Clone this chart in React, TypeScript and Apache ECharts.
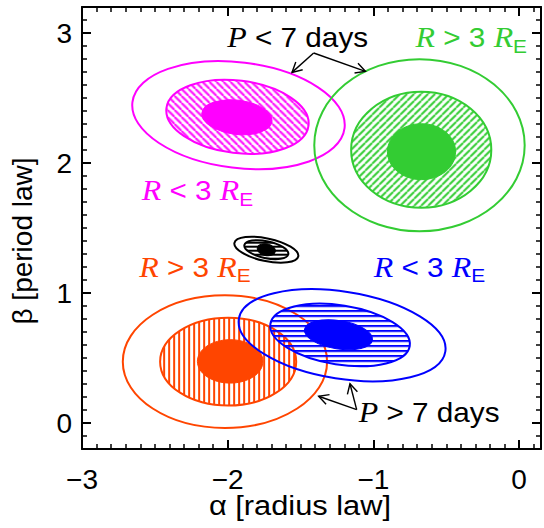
import { useEffect, useRef } from 'react';
import * as echarts from 'echarts';

// ---- axes ----
const X_MIN = -3;
const X_MAX = 0.15;
const Y_MIN = -0.2;
const Y_MAX = 3.2;
const xMajorTicks = [-3, -2, -1, 0];
const yMajorTicks = [0, 1, 2, 3];

// ---- contour ellipses: [alpha, beta, semi-axis (alpha), semi-axis (beta), tilt deg] ; outer, hatched, core ----
const magentaContours = [
  [-1.926, 2.368, 0.733, 0.406, 7],
  [-1.933, 2.355, 0.491, 0.279, 7],
  [-1.937, 2.352, 0.242, 0.131, 7],
];
const greenContours = [
  [-0.684, 2.137, 0.722, 0.662, 0],
  [-0.672, 2.102, 0.481, 0.446, 0],
  [-0.67, 2.087, 0.234, 0.215, 0],
];
const orangeContours = [
  [-2.019, 0.472, 0.701, 0.51, 0],
  [-1.997, 0.472, 0.467, 0.338, 0],
  [-1.983, 0.474, 0.225, 0.167, 0],
];
const blueContours = [
  [-1.215, 0.675, 0.717, 0.335, 9],
  [-1.229, 0.677, 0.484, 0.228, 9],
  [-1.24, 0.679, 0.236, 0.109, 9],
];
const blackContours = [
  [-1.735, 1.333, 0.224, 0.087, 12],
  [-1.735, 1.333, 0.154, 0.065, 12],
  [-1.735, 1.333, 0.063, 0.045, 12],
];

// ---- annotation arrows: [from alpha, from beta, to alpha, to beta] ----
const arrowSegments = [
  [-1.41, 2.846, -1.559, 2.697],
  [-1.41, 2.846, -1.055, 2.705],
  [-1.115, 0.103, -1.161, 0.302],
  [-1.115, 0.103, -1.376, 0.206],
];

// ---- annotation texts ----
const annotationTexts = [
  '{i|P}{n| < 7 days}',
  '{i|P}{n| > 7 days}',
  '{i|R}{n| > 3 }{i|R}{s|E}',
  '{i|R}{n| < 3 }{i|R}{s|E}',
  '{i|R}{n| > 3 }{i|R}{s|E}',
  '{i|R}{n| < 3 }{i|R}{s|E}',
];
const annotationAnchors = [
  [-2.003, 2.964],
  [-1.101, 0.079],
  [-0.711, 2.964],
  [-2.59, 1.787],
  [-2.607, 1.198],
  [-0.998, 1.198],
];

const MAGENTA = '#ff00ff';
const GREEN = '#33cc33';
const ORANGE = '#ff4500';
const BLUE = '#0000ff';
const BLACK = '#000000';
const annotationColors = [BLACK, BLACK, GREEN, MAGENTA, ORANGE, BLUE];

function minorTicks(min: number, max: number, majors: number[]) {
  const out: number[] = [];
  const start = Math.ceil(min * 10 - 1e-6);
  const end = Math.floor(max * 10 + 1e-6);
  for (let i = start; i <= end; i++) {
    const v = i / 10;
    if (Math.abs(v - min) < 1e-6 || Math.abs(v - max) < 1e-6) continue;
    if (majors.some((m) => Math.abs(m - v) < 1e-6)) continue;
    out.push(v);
  }
  return out;
}

function makeHatch(color: string, kind: string, tile: number, lw: number) {
  const cv = document.createElement('canvas');
  cv.width = tile;
  cv.height = tile;
  const g = cv.getContext('2d') as CanvasRenderingContext2D;
  g.fillStyle = color;
  g.strokeStyle = color;
  g.lineWidth = lw;
  if (kind === 'v') {
    g.fillRect(0, 0, lw, tile);
  } else if (kind === 'h') {
    g.fillRect(0, 0, tile, lw);
  } else {
    g.beginPath();
    for (const o of [-tile, 0, tile]) {
      if (kind === '/') {
        g.moveTo(o, tile);
        g.lineTo(o + tile, 0);
      } else {
        g.moveTo(o, 0);
        g.lineTo(o + tile, tile);
      }
    }
    g.stroke();
  }
  return cv;
}

export default function App() {
  const ref = useRef<HTMLDivElement>(null);

  useEffect(() => {
    if (!ref.current) return;
    const chart = echarts.init(ref.current, undefined, { renderer: 'svg' });

    const contourSeries = (
      name: string,
      contours: number[][],
      color: string,
      kind: string,
      tile: number,
      z: number
    ) => {
      const cv = makeHatch(color, kind, tile, 2);
      return {
        type: 'custom',
        name,
        coordinateSystem: 'cartesian2d',
        z,
        silent: true,
        data: contours.map((c, i) => [...c, i]),
        encode: { x: 0, y: 1 },
        renderItem: (_params: any, api: any) => {
          const c = api.coord([api.value(0), api.value(1)]);
          const sz = api.size([api.value(2), api.value(3)]);
          const tilt = (api.value(4) * Math.PI) / 180;
          const level = api.value(5);
          let style: any;
          if (level === 0) {
            style = { fill: 'none', stroke: color, lineWidth: 2 };
          } else if (level === 1) {
            style = {
              fill: {
                image: cv,
                repeat: 'repeat',
                imageWidth: tile,
                imageHeight: tile,
                rotation: -tilt,
              },
              stroke: color,
              lineWidth: 2,
            };
          } else {
            style = { fill: color, stroke: color, lineWidth: 1 };
          }
          return {
            type: 'ellipse',
            x: c[0],
            y: c[1],
            rotation: -tilt,
            shape: { cx: 0, cy: 0, rx: sz[0], ry: sz[1] },
            style,
          };
        },
      };
    };

    const fmt = (v: number) => (v < 0 ? '\u2212' + Math.abs(v) : String(v));
    const lineStyle = { color: '#000', width: 2 };
    const xMinor = minorTicks(X_MIN, X_MAX, xMajorTicks);
    const yMinor = minorTicks(Y_MIN, Y_MAX, yMajorTicks);

    const axis = (dimMin: number, dimMax: number, position: string, ticks: number[], len: number, main: boolean, labels: boolean) => ({
      type: 'value',
      min: dimMin,
      max: dimMax,
      position,
      splitLine: { show: false },
      axisLine: { show: main, onZero: false, lineStyle },
      axisTick: {
        show: true,
        inside: true,
        length: len,
        customValues: ticks,
        lineStyle: { color: '#000', width: main ? 2 : 1.5 },
      },
      axisLabel: labels
        ? {
            show: true,
            customValues: ticks,
            formatter: fmt,
            fontSize: 28,
            fontFamily: 'Liberation Sans',
            color: '#000',
            margin: position === 'bottom' ? 16 : 10,
          }
        : { show: false },
    });

    const richFor = (col: string) => ({
      i: { fontFamily: 'Liberation Serif', fontStyle: 'italic', fontSize: 29, fill: col, lineHeight: 36 },
      n: { fontFamily: 'Liberation Sans', fontSize: 27, fill: col, lineHeight: 36 },
      s: { fontFamily: 'Liberation Sans', fontSize: 19, fill: col, lineHeight: 19, verticalAlign: 'bottom' },
    });

    const option: any = {
      animation: false,
      backgroundColor: '#ffffff',
      grid: { left: 82, right: 3, top: 7, bottom: 79, containLabel: false, outerBoundsMode: 'none' },
      xAxis: [
        axis(X_MIN, X_MAX, 'bottom', xMajorTicks, 9, true, true),
        axis(X_MIN, X_MAX, 'bottom', xMinor, 5, false, false),
        axis(X_MIN, X_MAX, 'top', xMajorTicks, 9, true, false),
        axis(X_MIN, X_MAX, 'top', xMinor, 5, false, false),
      ],
      yAxis: [
        axis(Y_MIN, Y_MAX, 'left', yMajorTicks, 9, true, true),
        axis(Y_MIN, Y_MAX, 'left', yMinor, 5, false, false),
        axis(Y_MIN, Y_MAX, 'right', yMajorTicks, 9, true, false),
        axis(Y_MIN, Y_MAX, 'right', yMinor, 5, false, false),
      ],
      graphic: [
        {
          type: 'text',
          x: 300,
          y: 505,
          scaleX: 1.1,
          style: {
            text: '\u03b1 [radius law]',
            fontSize: 28,
            fontFamily: 'Liberation Sans',
            fill: '#000',
            align: 'center',
            verticalAlign: 'middle',
          },
        },
        {
          type: 'text',
          x: 22,
          y: 241,
          rotation: Math.PI / 2,
          style: {
            text: '\u03b2 [period law]',
            fontSize: 28,
            fontFamily: 'Liberation Sans',
            fill: '#000',
            align: 'center',
            verticalAlign: 'middle',
          },
        },
      ],
      series: [
        contourSeries('black', blackContours, BLACK, 'h', 4, 2),
        contourSeries('magenta', magentaContours, MAGENTA, '\\', 7, 2),
        contourSeries('green', greenContours, GREEN, '/', 7, 2),
        contourSeries('orange', orangeContours, ORANGE, 'v', 5, 2),
        contourSeries('blue', blueContours, BLUE, 'h', 5, 2),
        {
          type: 'custom',
          name: 'arrows',
          coordinateSystem: 'cartesian2d',
          z: 3,
          silent: true,
          data: arrowSegments,
          encode: { x: [0, 2], y: [1, 3] },
          renderItem: (_params: any, api: any) => {
            const p1 = api.coord([api.value(0), api.value(1)]);
            const p2 = api.coord([api.value(2), api.value(3)]);
            const ang = Math.atan2(p2[1] - p1[1], p2[0] - p1[0]);
            const L = 11;
            const phi = (28 * Math.PI) / 180;
            const h1 = [p2[0] - L * Math.cos(ang - phi), p2[1] - L * Math.sin(ang - phi)];
            const h2 = [p2[0] - L * Math.cos(ang + phi), p2[1] - L * Math.sin(ang + phi)];
            const st = { stroke: '#000', lineWidth: 1.4, fill: 'none' };
            return {
              type: 'group',
              children: [
                { type: 'line', shape: { x1: p1[0], y1: p1[1], x2: p2[0], y2: p2[1] }, style: st },
                { type: 'polyline', shape: { points: [h1, p2, h2] }, style: st },
              ],
            };
          },
        },
        {
          type: 'custom',
          name: 'labels',
          coordinateSystem: 'cartesian2d',
          z: 4,
          silent: true,
          data: annotationAnchors,
          encode: { x: 0, y: 1 },
          renderItem: (params: any, api: any) => {
            const i = params.dataIndex;
            const p = api.coord([api.value(0), api.value(1)]);
            const col = annotationColors[i];
            return {
              type: 'text',
              x: p[0],
              y: p[1],
              scaleX: 1.1,
              style: {
                text: annotationTexts[i],
                align: 'left',
                verticalAlign: 'middle',
                fill: col,
                rich: richFor(col),
              },
            };
          },
        },
      ],
    };

    chart.setOption(option);
    return () => chart.dispose();
  }, []);

  return (
    <div
      ref={ref}
      style={{ position: 'fixed', left: 0, top: 0, width: 544, height: 528, background: '#fff' }}
    />
  );
}
